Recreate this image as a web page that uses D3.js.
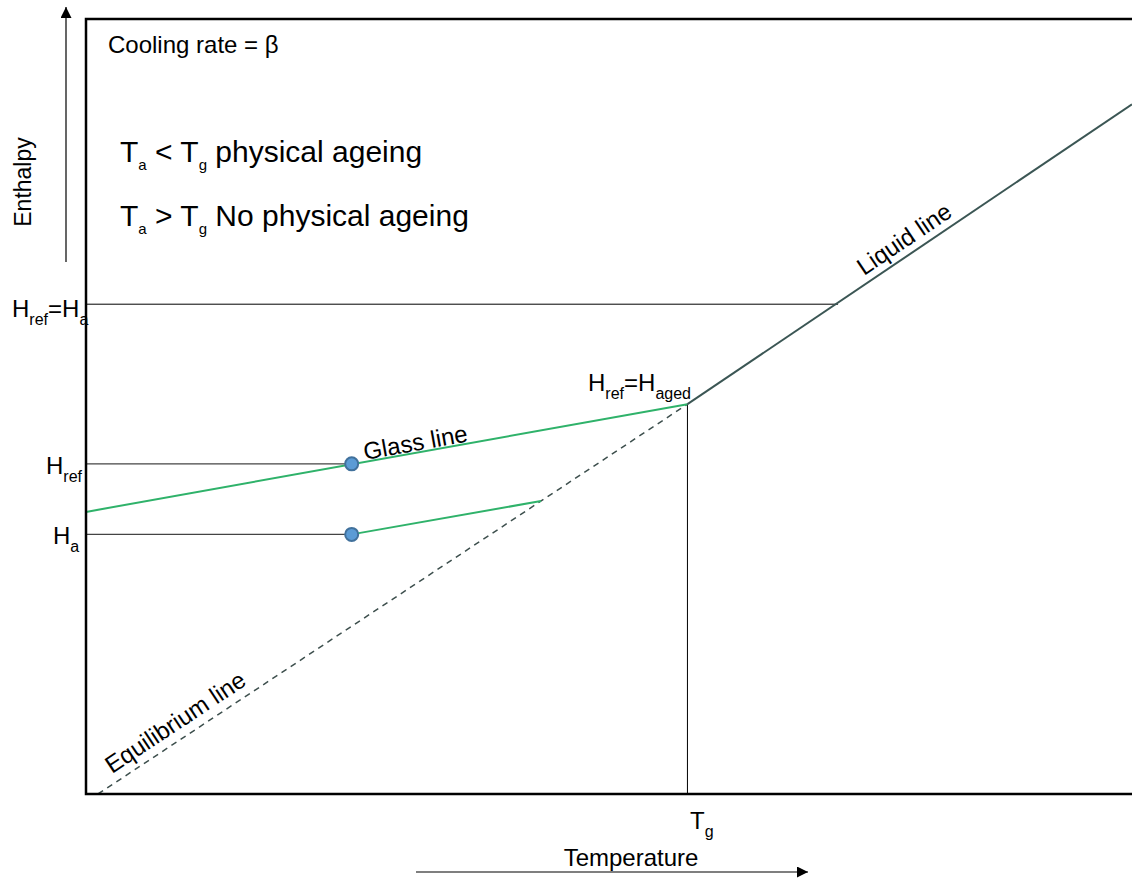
<!DOCTYPE html>
<html>
<head>
<meta charset="utf-8">
<script src="https://cdn.jsdelivr.net/npm/d3@7"></script>
<style>
  body { margin: 0; background: #fff; }
  text { font-family: "Liberation Sans", Arial, sans-serif; fill: #000; }
</style>
</head>
<body>
<div id="chart"></div>
<script>
// Set Width and Height
var svgWidth = 1132;
var svgHeight = 881;

// frame of the plot area
var margin = { top: 19, left: 86, bottom: 87 };

// data in arbitrary units: temperature 0-100, enthalpy 0-100
var liquidLine = [[57.5, 50.3], [100, 89.0]];
var glassLine = [[0, 36.4], [57.5, 50.3]];
var agedLine = [[25.4, 33.5], [43.5, 37.8]];
var equilibriumLine = [[1.15, 0], [57.5, 50.3]];
var agePoints = [[25.4, 42.6], [25.4, 33.5]];
var hLevels = [63.2, 42.6, 33.5];
var hEnds = [71.9, 25.4, 25.4];
var tg = 57.5;
var tgTop = 50.3;

var svg = d3.select('#chart').append('svg')
  .attr('width', svgWidth)
  .attr('height', svgHeight);

var x = d3.scaleLinear().domain([0, 100]).range([margin.left, svgWidth]);
var y = d3.scaleLinear().domain([0, 100]).range([svgHeight - margin.bottom, margin.top]);

var line = d3.line().x(d => x(d[0])).y(d => y(d[1]));

// arrow marker
svg.append('defs').append('marker')
  .attr('id', 'arrow')
  .attr('viewBox', '0 0 10 10')
  .attr('refX', 10).attr('refY', 5)
  .attr('markerWidth', 12).attr('markerHeight', 11)
  .attr('markerUnits', 'userSpaceOnUse')
  .attr('orient', 'auto')
  .append('path')
  .attr('d', 'M0,0 L10,5 L0,10 Z')
  .attr('fill', '#000');

// reference horizontal lines
svg.selectAll('.hline')
  .data(hLevels)
  .enter()
  .append('line')
  .attr('x1', x(0))
  .attr('x2', (d, i) => x(hEnds[i]))
  .attr('y1', d => y(d))
  .attr('y2', d => y(d))
  .attr('stroke', (d, i) => i === 0 ? '#000' : '#444')
  .attr('stroke-width', (d, i) => i === 0 ? 1 : 1.3);

// Tg vertical
svg.append('line')
  .attr('x1', x(tg)).attr('x2', x(tg))
  .attr('y1', y(tgTop)).attr('y2', y(0))
  .attr('stroke', '#000').attr('stroke-width', 1);

// equilibrium line (dashed)
svg.append('path')
  .attr('d', line(equilibriumLine))
  .attr('fill', 'none')
  .attr('stroke', '#3d4f4d')
  .attr('stroke-width', 1.5)
  .attr('stroke-dasharray', '6,5');

// glass lines
svg.append('path')
  .attr('d', line(glassLine))
  .attr('fill', 'none')
  .attr('stroke', '#2fb26a')
  .attr('stroke-width', 2);

svg.append('path')
  .attr('d', line(agedLine))
  .attr('fill', 'none')
  .attr('stroke', '#2fb26a')
  .attr('stroke-width', 2);

// liquid line
svg.append('path')
  .attr('d', line(liquidLine))
  .attr('fill', 'none')
  .attr('stroke', '#3b5654')
  .attr('stroke-width', 2);

// points
svg.selectAll('circle')
  .data(agePoints)
  .enter()
  .append('circle')
  .attr('cx', d => x(d[0]))
  .attr('cy', d => y(d[1]))
  .attr('r', 6.5)
  .attr('fill', '#5b9bd5')
  .attr('stroke', '#41719c')
  .attr('stroke-width', 2);

// frame (left, top, bottom)
svg.append('path')
  .attr('d', `M${svgWidth},${y(100)} L${x(0)},${y(100)} L${x(0)},${y(0)} L${svgWidth},${y(0)}`)
  .attr('fill', 'none')
  .attr('stroke', '#000')
  .attr('stroke-width', 2.5);

// axis arrows
svg.append('line')
  .attr('x1', 66).attr('x2', 66)
  .attr('y1', 262).attr('y2', 7)
  .attr('stroke', '#000').attr('stroke-width', 1.2)
  .attr('marker-end', 'url(#arrow)');

svg.append('line')
  .attr('x1', 416).attr('x2', 808)
  .attr('y1', 872).attr('y2', 872)
  .attr('stroke', '#000').attr('stroke-width', 1.2)
  .attr('marker-end', 'url(#arrow)');

svg.append('text')
  .attr('transform', 'translate(31,182) rotate(-90)')
  .attr('text-anchor', 'middle')
  .style('font-size', '23px')
  .text('Enthalpy');

svg.append('text')
  .attr('x', 631).attr('y', 866)
  .attr('text-anchor', 'middle')
  .style('font-size', '24px')
  .text('Temperature');

// helper for text with subscripts
function subText(px, py, parts, size, subSize, drop) {
  var t = svg.append('text')
    .attr('x', px).attr('y', py)
    .style('font-size', size + 'px');
  var shift = 0;
  parts.forEach(function (p) {
    var target = p.sub ? drop : 0;
    t.append('tspan')
      .attr('dy', target - shift)
      .style('font-size', (p.sub ? subSize : size) + 'px')
      .text(p.sub || p.t);
    shift = target;
  });
  return t;
}

svg.append('text')
  .attr('x', 108).attr('y', 53)
  .style('font-size', '24px')
  .text('Cooling rate = \u03b2');

subText(120, 162, [{ t: 'T' }, { sub: 'a' }, { t: ' < T' }, { sub: 'g' }, { t: ' physical ageing' }], 30, 15, 8);
subText(120, 226, [{ t: 'T' }, { sub: 'a' }, { t: ' > T' }, { sub: 'g' }, { t: ' No physical ageing' }], 30, 15, 8);

subText(12, 317, [{ t: 'H' }, { sub: 'ref' }, { t: '=H' }, { sub: 'a' }], 24, 16, 8);
subText(588, 391, [{ t: 'H' }, { sub: 'ref' }, { t: '=H' }, { sub: 'aged' }], 24, 16, 8);
subText(46, 474, [{ t: 'H' }, { sub: 'ref' }], 24, 16, 8);
subText(53, 544, [{ t: 'H' }, { sub: 'a' }], 24, 16, 8);
subText(690, 829, [{ t: 'T' }, { sub: 'g' }], 24, 16, 8);

// rotated line labels
svg.append('text')
  .attr('transform', 'translate(365,460) rotate(-10.2)')
  .style('font-size', '24px')
  .text('Glass line');

svg.append('text')
  .attr('transform', 'translate(864,276) rotate(-34)')
  .style('font-size', '24px')
  .text('Liquid line');

svg.append('text')
  .attr('transform', 'translate(112,774) rotate(-33.5)')
  .style('font-size', '24px')
  .text('Equilibrium line');
</script>
</body>
</html>
